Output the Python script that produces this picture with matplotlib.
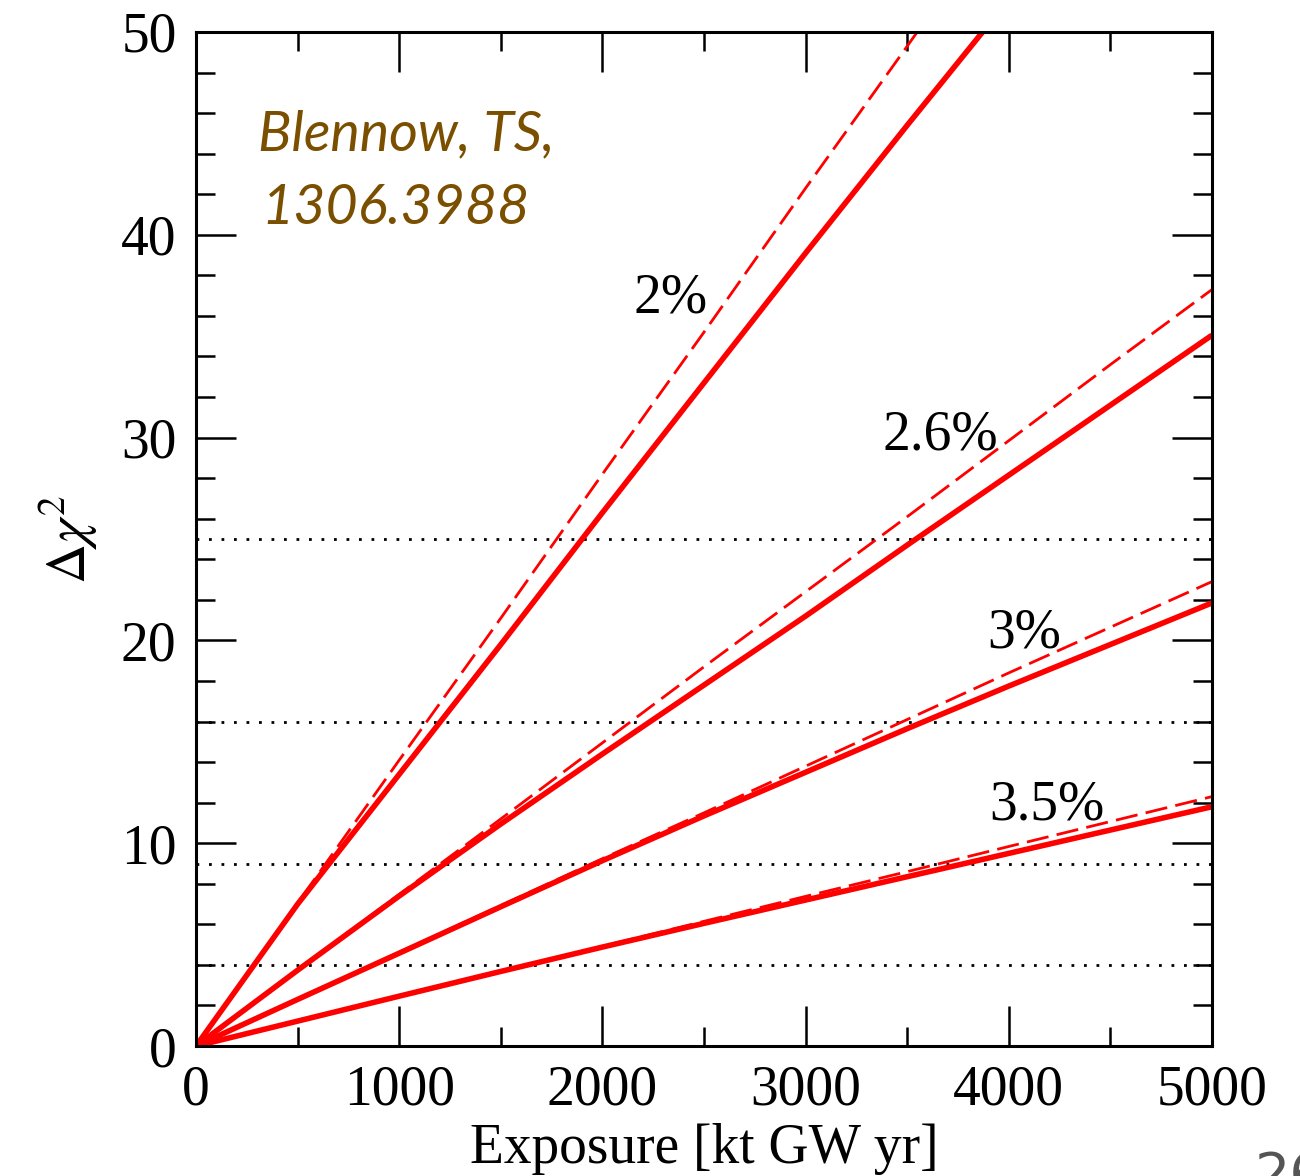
import matplotlib
matplotlib.use('Agg')
import matplotlib.pyplot as plt
from matplotlib.ticker import MultipleLocator

plt.rcParams['font.family'] = ['Liberation Serif', 'DejaVu Serif']
plt.rcParams['mathtext.fontset'] = 'stix'

# exposure grid [kt GW yr]
exposure = [0, 500, 1000, 1500, 2000, 2500, 3000, 3500, 4000, 4500, 5000]

# delta chi^2, solid = with systematics, dashed = stat only
chi2_2p0 = [0, 7.0, 13.4, 19.8, 26.3, 32.7, 39.1, 45.4, 51.6, 57.8, 64.0]
chi2_2p0_stat = [0, 7.05, 14.1, 21.1, 28.2, 35.2, 42.3, 49.3, 56.4, 63.4, 70.5]
chi2_2p6 = [0, 3.74, 7.4, 10.95, 14.4, 17.8, 21.2, 24.7, 28.15, 31.6, 35.05]
chi2_2p6_stat = [0, 3.75, 7.48, 11.2, 14.95, 18.7, 22.4, 26.1, 29.85, 33.6, 37.3]
chi2_3p0 = [0, 2.3, 4.58, 6.87, 9.14, 11.35, 13.5, 15.65, 17.75, 19.8, 21.85]
chi2_3p0_stat = [0, 2.31, 4.62, 6.93, 9.24, 11.5, 13.8, 16.1, 18.4, 20.65, 22.9]
chi2_3p5 = [0, 1.23, 2.46, 3.68, 4.88, 6.05, 7.2, 8.35, 9.5, 10.65, 11.8]
chi2_3p5_stat = [0, 1.23, 2.46, 3.69, 4.92, 6.15, 7.38, 8.6, 9.84, 11.07, 12.3]

res_labels = ['2%', '2.6%', '3%', '3.5%']
label_x = [2333, 3661, 4074, 4188]
label_y = [36.15, 29.4, 19.67, 11.19]

sigma_levels = [4, 9, 16, 25]

fig = plt.figure(figsize=(13, 11.76), dpi=100)
ax = fig.add_axes([0.1508, 0.1105, 0.7815, 0.8623])

for lev in sigma_levels:
    ax.plot([0, 5000], [lev, lev], color='black', lw=2.0, ls=(0, (1, 3.5)))

solid = [chi2_2p0, chi2_2p6, chi2_3p0, chi2_3p5]
dashed = [chi2_2p0_stat, chi2_2p6_stat, chi2_3p0_stat, chi2_3p5_stat]
for s, d in zip(solid, dashed):
    ax.plot(exposure, d, color='#ff0000', lw=2.0, dashes=(8, 3))
    ax.plot(exposure, s, color='#ff0000', lw=4.0, solid_capstyle='butt')

for lab, x, y in zip(res_labels, label_x, label_y):
    ax.text(x, y, lab, fontsize=40, ha='center', va='baseline')

ax.text(305, 44.18, 'Blennow, TS,', fontsize=40, style='italic', family='Lato',
        color='#7b4f00', ha='left', va='baseline')
ax.text(320, 40.53, '1306.3988', fontsize=40, style='italic', family='Lato',
        color='#7b4f00', ha='left', va='baseline')

ax.set_xlim(0, 5000)
ax.set_ylim(0, 50)
ax.xaxis.set_major_locator(MultipleLocator(1000))
ax.xaxis.set_minor_locator(MultipleLocator(500))
ax.yaxis.set_major_locator(MultipleLocator(10))
ax.yaxis.set_minor_locator(MultipleLocator(2))
ax.tick_params(which='both', direction='in', top=True, right=True, width=1.8,
               labelsize=40)
ax.tick_params(which='major', length=29)
ax.tick_params(which='minor', length=14)
ax.tick_params(axis='x', pad=13)
ax.tick_params(axis='y', pad=14)
for sp in ax.spines.values():
    sp.set_linewidth(2.2)

ax.set_xlabel('Exposure [kt GW yr]', fontsize=40, labelpad=5)
ax.set_ylabel(r'$\Delta\chi^2$', fontsize=40)
ax.yaxis.set_label_coords(-0.095, 0.5)

fig.text(0.965, 0.022, '26', fontsize=40, color='#555555', family='DejaVu Sans',
         ha='left', va='top')

fig.savefig('out.png', dpi=100)
